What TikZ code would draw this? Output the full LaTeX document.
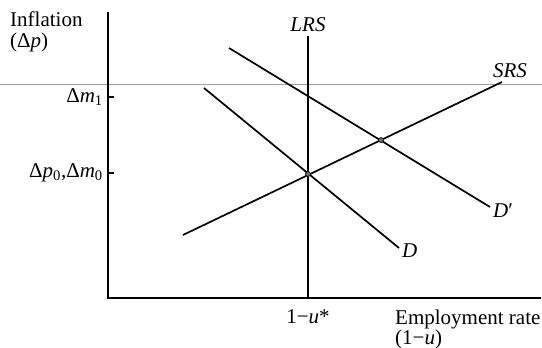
\documentclass[tikz,border=0pt]{standalone}
\usepackage{fontspec}
\setmainfont{Liberation Serif}
\usetikzlibrary{positioning}
\definecolor{foldgray}{RGB}{160,160,160}
\definecolor{dotgray}{RGB}{110,110,110}
\tikzset{
  axisline/.style={line width=1.7pt},
  schedule/.style={line width=1.7pt},
  eqdot/.style={circle,fill=dotgray,draw=black,line width=0.6pt,inner sep=0pt,minimum size=5pt},
  lbl/.style={inner sep=0pt,font=\fontsize{21}{17}\selectfont},
}

\begin{document}
\begin{tikzpicture}[x=1pt,y=-1pt]
  \useasboundingbox (0,0) rectangle (542,348);
  % fold mark across the page
  \coordinate (foldL) at (0,84);
  \coordinate (foldR) at (542,84);
  \draw[foldgray,line width=1pt] (foldL) -- (foldR);
  % axes
  \coordinate (ytop) at (108,12);
  \coordinate (orig) at (108,298);
  \coordinate (xend) at (541,298);
  \draw[axisline] (ytop) -- (orig) -- (xend);
  \node[lbl,anchor=north west,align=left,font=\fontsize{21}{21}\selectfont] (ylab) at (10,12)
    {Inflation\\(Δ\textit{p})};
  \node[lbl,anchor=north west,align=left] (xlab) at (395,310)
    {Employment rate\\(1−\textit{u})};
  % ticks on the inflation axis
  \coordinate (m1) at (108,97);
  \coordinate (m0) at (108,173);
  \draw[line width=1.2pt] (m1) -- ++(6,0);
  \draw[line width=1.2pt] (m0) -- ++(6,0);
  \node[lbl,anchor=east] (m1lab) at ([xshift=-5pt]m1)
    {Δ\textit{m}\textsubscript{1}};
  \node[lbl,anchor=east] (m0lab) at ([xshift=-5pt]m0)
    {Δ\textit{p}\textsubscript{0},Δ\textit{m}\textsubscript{0}};
  % long run supply
  \coordinate (lrsT) at (308,36);
  \coordinate (lrsB) at (308,298);
  \draw[schedule] (lrsT) -- (lrsB);
  \node[lbl,anchor=south] (lrslab) at ([yshift=4pt]lrsT) {\textit{LRS}};
  \node[lbl,anchor=north] (ustar) at ([yshift=-11pt]lrsB) {1−\textit{u}*};
  % short run supply
  \coordinate (srsA) at (183,235);
  \coordinate (srsB) at (502,82);
  \draw[schedule] (srsA) -- (srsB);
  \node[lbl,anchor=south] (srslab) at ([xshift=8pt,yshift=4pt]srsB) {\textit{SRS}};
  % demand curves
  \coordinate (dA) at (204,88);
  \coordinate (dB) at (399,248);
  \draw[schedule] (dA) -- (dB);
  \node[lbl,anchor=west] (dlab) at ([xshift=3pt,yshift=-3pt]dB) {\textit{D}};
  \coordinate (dpA) at (229,48);
  \coordinate (dpB) at (490,207);
  \draw[schedule] (dpA) -- (dpB);
  \node[lbl,anchor=west] (dplab) at ([xshift=3pt,yshift=-4pt]dpB) {\textit{D}′};
  % equilibria
  \node[eqdot] (e0) at (308,174) {};
  \node[eqdot] (e1) at (381,140) {};
\end{tikzpicture}
\end{document}
